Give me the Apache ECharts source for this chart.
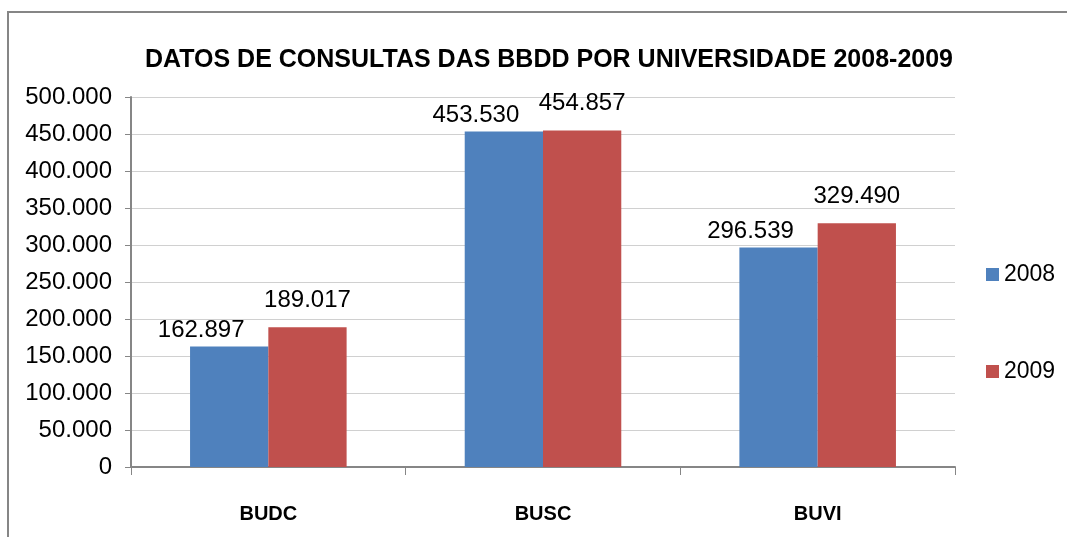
<!DOCTYPE html>
<html>
<head>
<meta charset="utf-8">
<script src="https://cdn.jsdelivr.net/npm/echarts@6/dist/echarts.min.js"></script>
<style>
  html, body { margin: 0; padding: 0; background: #fff; }
  #main { width: 1067px; height: 537px; }
</style>
</head>
<body>
<div id="main"></div>
<script>
var categories = ['BUDC', 'BUSC', 'BUVI'];
var years = ['2008', '2009'];
var values2008 = [162897, 453530, 296539];
var values2009 = [189017, 454857, 329490];

function fmt(v) {
  return String(v).replace(/\B(?=(\d{3})+(?!\d))/g, '.');
}

var chart = echarts.init(document.getElementById('main'));
var font = 'Liberation Sans, Arial, sans-serif';

function labelOpt(dist, dx) {
  return {
    show: true,
    position: 'top',
    distance: dist,
    offset: [dx, 0],
    color: '#000',
    fontSize: 24,
    fontFamily: font,
    formatter: function (p) { return fmt(p.value); }
  };
}

var option = {
  backgroundColor: '#fff',
  animation: false,
  title: {
    text: 'DATOS DE CONSULTAS DAS BBDD POR UNIVERSIDADE 2008-2009',
    left: 544,
    textAlign: 'center',
    top: 43,
    textStyle: { fontSize: 25, fontWeight: 'bold', color: '#000', fontFamily: font }
  },
  legend: {
    orient: 'vertical',
    left: 981,
    top: 258,
    itemGap: 74,
    itemWidth: 13,
    itemHeight: 13,
    icon: 'rect',
    textStyle: { fontSize: 23, color: '#000', fontFamily: font },
    data: years
  },
  grid: { left: 131, right: 112, top: 97, bottom: 70 },
  xAxis: {
    type: 'category',
    data: categories,
    axisLine: { lineStyle: { color: '#868686', width: 2 } },
    axisTick: { show: true, length: 8, lineStyle: { color: '#868686', width: 1 } },
    axisLabel: { fontSize: 20, fontWeight: 'bold', color: '#000', margin: 37, fontFamily: font }
  },
  yAxis: {
    type: 'value',
    min: 0,
    max: 500000,
    interval: 50000,
    axisLine: { show: true, lineStyle: { color: '#868686', width: 2 } },
    axisTick: { show: true, length: 6, lineStyle: { color: '#868686' } },
    splitLine: { lineStyle: { color: '#d0d0d0', width: 1 } },
    axisLabel: {
      fontSize: 24, color: '#000', margin: 19, fontFamily: font,
      formatter: function (v) { return fmt(v); }
    }
  },
  series: [
    {
      name: '2008',
      type: 'bar',
      data: values2008,
      barGap: '0%',
      barCategoryGap: '43%',
      itemStyle: { color: '#4f81bd' },
      label: labelOpt(4, -28)
    },
    {
      name: '2009',
      type: 'bar',
      data: values2009,
      itemStyle: { color: '#c0504d' },
      label: labelOpt(15, 0)
    }
  ],
  graphic: [{
    type: 'rect',
    shape: { x: 8, y: 12, width: 1070, height: 540 },
    style: { fill: 'none', stroke: '#868686', lineWidth: 2 },
    silent: true
  }]
};

chart.setOption(option);
</script>
</body>
</html>
